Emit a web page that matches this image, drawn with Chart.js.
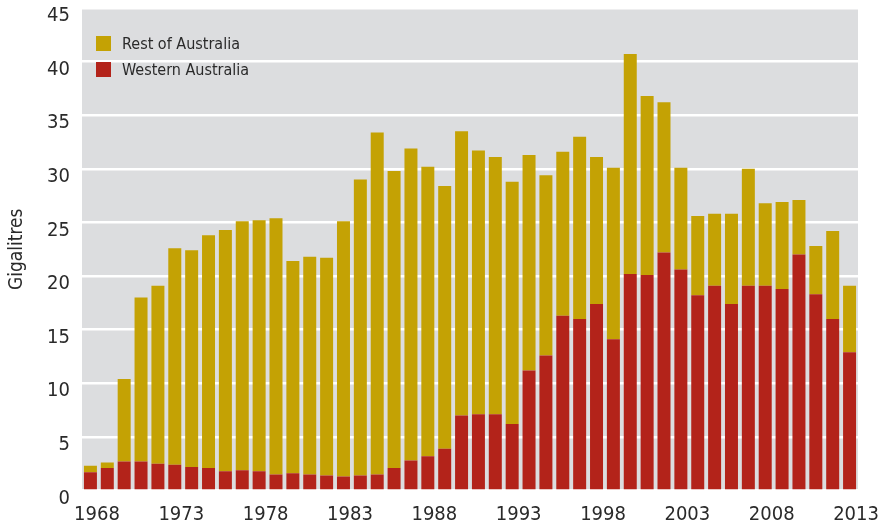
<!DOCTYPE html>
<html>
<head>
<meta charset="utf-8">
<title>Gigalitres by year</title>
<script src="https://cdn.jsdelivr.net/npm/chart.js@4/dist/chart.umd.min.js"></script>
<style>
  html, body { margin: 0; padding: 0; background: #fff; }
  #wrap { position: relative; width: 878px; height: 532px; }
</style>
</head>
<body>
<div id="wrap"><canvas id="waterChart"></canvas></div>
<script>
// Years on the category axis
const years = [];
for (let y = 1968; y <= 2013; y++) years.push(String(y));

// Only every fifth year gets a label
const yearLabels = ['1968', '1973', '1978', '1983', '1988', '1993', '1998', '2003', '2008', '2013'];

// Gigalitres, Western Australia (bottom of each stack)
const westernAustralia = [
  1.7, 2.1, 2.7, 2.7, 2.5, 2.4, 2.2, 2.1, 1.8, 1.9,
  1.8, 1.5, 1.6, 1.5, 1.4, 1.3, 1.4, 1.5, 2.1, 2.8,
  3.2, 3.9, 7.0, 7.1, 7.1, 6.2, 11.2, 12.6, 16.3, 16.0,
  17.4, 14.1, 20.2, 20.1, 22.2, 20.6, 18.2, 19.1, 17.4, 19.1,
  19.1, 18.8, 22.0, 18.3, 16.0, 12.9
];

// Gigalitres, rest of Australia (stacked on top)
const restOfAustralia = [
  0.6, 0.5, 7.7, 15.3, 16.6, 20.2, 20.2, 21.7, 22.5, 23.2,
  23.4, 23.9, 19.8, 20.3, 20.3, 23.8, 27.6, 31.9, 27.7, 29.1,
  27.0, 24.5, 26.5, 24.6, 24.0, 22.6, 20.1, 16.8, 15.3, 17.0,
  13.7, 16.0, 20.5, 16.7, 14.0, 9.5, 7.4, 6.7, 8.4, 10.9,
  7.7, 8.1, 5.1, 4.5, 8.2, 6.2
];

const yTicks = [0, 5, 10, 15, 20, 25, 30, 35, 40, 45];

const FONT = "'Liberation Sans Narrow', 'DejaVu Sans Condensed', 'Liberation Sans', sans-serif";
const TEXT = '#2a2a2a';

// grey panel behind the bars
const panelBackground = {
  id: 'panelBackground',
  beforeDraw(chart) {
    const { ctx, chartArea: a } = chart;
    ctx.save();
    ctx.fillStyle = '#dcdddf';
    ctx.fillRect(a.left, a.top, a.right - a.left, a.bottom - a.top);
    ctx.restore();
  }
};

// legend drawn inside the panel, top left, top series first
const insideLegend = {
  id: 'insideLegend',
  afterDraw(chart) {
    const { ctx, chartArea: a } = chart;
    const sets = chart.data.datasets.slice().reverse();
    ctx.save();
    ctx.font = '16px ' + FONT;
    ctx.textBaseline = 'middle';
    sets.forEach((ds, i) => {
      const cy = a.top + 35.5 + i * 26;
      ctx.fillStyle = ds.backgroundColor;
      ctx.fillRect(a.left + 14, cy - 7.5, 15, 15);
      ctx.fillStyle = TEXT;
      ctx.fillText(ds.label, a.left + 40, cy + 1);
    });
    ctx.restore();
  }
};

const ctx = document.getElementById('waterChart').getContext('2d');
const waterChart = new Chart(ctx, {
  type: 'bar',
  data: {
    labels: years,
    datasets: [{
      label: 'Western Australia',
      data: westernAustralia,
      backgroundColor: '#b3231a',
      barPercentage: 0.77,
      categoryPercentage: 1
    }, {
      label: 'Rest of Australia',
      data: restOfAustralia,
      backgroundColor: '#c4a204',
      barPercentage: 0.77,
      categoryPercentage: 1
    }]
  },
  options: {
    responsive: true,
    maintainAspectRatio: false,
    animation: false,
    layout: { padding: { top: 8, right: 20, left: 0, bottom: 0 } },
    plugins: {
      legend: { display: false },
      tooltip: { enabled: false }
    },
    scales: {
      x: {
        stacked: true,
        grid: { display: false, drawTicks: false },
        border: { display: false },
        ticks: {
          autoSkip: false,
          maxRotation: 0,
          labelOffset: 6.5,
          padding: 12,
          color: TEXT,
          font: { family: FONT, size: 20 },
          callback: function(value) {
            const lbl = this.getLabelForValue(value);
            return yearLabels.includes(lbl) ? lbl : '';
          }
        },
        afterFit: function(scale) {
          scale.height = 41.5;
          scale.paddingLeft = 0;
          scale.paddingRight = 0;
        }
      },
      y: {
        stacked: true,
        min: 0,
        max: 45,
        afterBuildTicks: function(scale) {
          scale.ticks = yTicks.map(v => ({ value: v }));
        },
        grid: { color: '#ffffff', lineWidth: 2.5, drawTicks: false },
        border: { display: false },
        ticks: {
          padding: 12,
          labelOffset: 8,
          color: TEXT,
          font: { family: FONT, size: 20 }
        },
        title: {
          display: true,
          text: 'Gigalitres',
          color: TEXT,
          font: { family: FONT, size: 19 },
          padding: { top: 6, bottom: 0 }
        },
        afterFit: function(scale) {
          scale.width = 82;
          scale.paddingTop = 0;
          scale.paddingBottom = 0;
        }
      }
    }
  },
  plugins: [panelBackground, insideLegend]
});
</script>
</body>
</html>
